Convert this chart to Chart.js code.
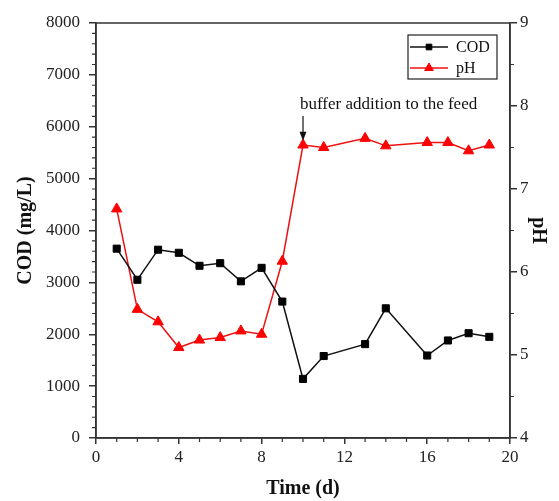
<!DOCTYPE html>
<html>
<head>
<meta charset="utf-8">
<script src="https://cdn.jsdelivr.net/npm/chart.js@4.4.0/dist/chart.umd.min.js"></script>
<style>body{margin:0;background:#fff}</style>
</head>
<body>
<canvas id="graficoCod" width="559" height="501"></canvas>
<script>
// dados
const dias = [1, 2, 3, 4, 5, 6, 7, 8, 9, 10, 11, 13, 14, 16, 17, 18, 19];
const cod = [3650, 3050, 3630, 3570, 3320, 3370, 3020, 3280, 2630, 1140, 1580, 1810, 2500, 1590, 1880, 2020, 1950];
const ph = [6.76, 5.55, 5.40, 5.09, 5.18, 5.21, 5.29, 5.25, 6.13, 7.53, 7.50, 7.61, 7.52, 7.56, 7.56, 7.46, 7.53];
const nomes = ['COD', 'pH'];
const nota = 'buffer addition to the feed';
const diaNota = 10;

const fonte = 'Liberation Serif, Times New Roman, serif';
const corEixo = '#333';

function pontos(valores) {
    return dias.map((d, i) => ({x: d, y: valores[i]}));
}

// ticks menores, moldura, legenda e nota
const extras = {
    id: 'extras',
    afterDraw(chart) {
        const ctx = chart.ctx;
        const area = chart.chartArea;
        const sx = chart.scales.x, sy = chart.scales.y, sp = chart.scales.y1;
        ctx.save();
        ctx.strokeStyle = corEixo;
        ctx.lineWidth = 1.5;
        ctx.strokeRect(area.left, area.top, area.right - area.left, area.bottom - area.top);

        ctx.lineWidth = 1.2;
        ctx.beginPath();
        for (let v = 0; v <= 20; v += 1) {
            if (v % 4 === 0) continue;
            const px = sx.getPixelForValue(v);
            ctx.moveTo(px, area.bottom);
            ctx.lineTo(px, area.bottom + 4);
        }
        for (let v = 0; v <= 8000; v += 200) {
            if (v % 1000 === 0) continue;
            const py = sy.getPixelForValue(v);
            ctx.moveTo(area.left, py);
            ctx.lineTo(area.left - 4, py);
        }
        for (let v = 4.5; v < 9; v += 1) {
            const py = sp.getPixelForValue(v);
            ctx.moveTo(area.right, py);
            ctx.lineTo(area.right + 4, py);
        }
        ctx.stroke();

        // legenda
        const lx = 408, ly = 35, lw = 89, lh = 44;
        ctx.lineWidth = 1.2;
        ctx.strokeStyle = '#222';
        ctx.strokeRect(lx, ly, lw, lh);
        ctx.font = '16px ' + fonte;
        ctx.textBaseline = 'middle';
        chart.data.datasets.forEach((ds, i) => {
            const yy = ly + 12 + i * 21;
            ctx.strokeStyle = ds.borderColor;
            ctx.lineWidth = ds.borderWidth;
            ctx.beginPath();
            ctx.moveTo(lx + 2, yy);
            ctx.lineTo(lx + 40, yy);
            ctx.stroke();
            ctx.fillStyle = ds.backgroundColor;
            ctx.strokeStyle = ds.pointBorderColor;
            ctx.lineWidth = 1;
            Chart.helpers.drawPoint(ctx, {
                pointStyle: ds.pointStyle, radius: ds.pointRadius - 1, borderWidth: 1
            }, lx + 21, yy);
            ctx.fillStyle = '#111';
            ctx.fillText(ds.label, lx + 48, yy + 1);
        });

        // nota e seta
        const ax = sx.getPixelForValue(diaNota);
        ctx.fillStyle = '#111';
        ctx.font = '17px ' + fonte;
        ctx.textAlign = 'left';
        ctx.fillText(nota, ax - 3, sp.getPixelForValue(8.02));
        const y0 = sp.getPixelForValue(7.88), y1 = sp.getPixelForValue(7.58);
        ctx.strokeStyle = '#111';
        ctx.lineWidth = 1.2;
        ctx.beginPath();
        ctx.moveTo(ax, y0);
        ctx.lineTo(ax, y1 - 6);
        ctx.stroke();
        ctx.beginPath();
        ctx.moveTo(ax - 3.5, y1 - 9);
        ctx.lineTo(ax + 3.5, y1 - 9);
        ctx.lineTo(ax, y1);
        ctx.closePath();
        ctx.fill();
        ctx.restore();
    }
};

const ctx = document.getElementById('graficoCod');

const tickFonte = {family: fonte, size: 17};
const tituloFonte = {family: fonte, size: 20, weight: 'bold'};

const myChart = new Chart(ctx, {
    type: 'line',
    data: {
        datasets: [{
            label: nomes[0],
            data: pontos(cod),
            yAxisID: 'y',
            borderColor: '#111',
            backgroundColor: '#000',
            borderWidth: 1.5,
            pointStyle: 'rect',
            pointRadius: 5,
            pointBorderWidth: 1,
            pointBorderColor: '#000'
        }, {
            label: nomes[1],
            data: pontos(ph),
            yAxisID: 'y1',
            borderColor: '#ee1111',
            backgroundColor: '#ff0000',
            borderWidth: 1.5,
            pointStyle: 'triangle',
            pointRadius: 6,
            pointBorderWidth: 1,
            pointBorderColor: '#ff0000'
        }]
    },
    options: {
        responsive: false,
        animation: false,
        layout: {padding: {top: 23, left: 0, right: 0, bottom: 0}},
        plugins: {
            legend: {display: false},
            tooltip: {enabled: false}
        },
        scales: {
            x: {
                type: 'linear',
                min: 0,
                max: 20,
                afterFit: s => { s.height = 63; },
                ticks: {stepSize: 4, padding: 3, color: '#222', font: tickFonte, callback: v => String(v)},
                grid: {drawOnChartArea: false, tickLength: 6, color: corEixo, lineWidth: 1.5},
                border: {color: corEixo, width: 1.5},
                title: {display: true, text: 'Time (d)', color: '#111',
                    font: tituloFonte, padding: {top: 0, bottom: 0}}
            },
            y: {
                position: 'left',
                min: 0,
                max: 8000,
                afterFit: s => { s.width = 96; },
                ticks: {stepSize: 1000, padding: 9, color: '#222', font: tickFonte, callback: v => String(v)},
                grid: {drawOnChartArea: false, tickLength: 7, color: corEixo, lineWidth: 1.5},
                border: {color: corEixo, width: 1.5},
                title: {display: true, text: 'COD (mg/L)', color: '#111',
                    font: tituloFonte, padding: {top: 14, bottom: 0}}
            },
            y1: {
                position: 'right',
                min: 4,
                max: 9,
                afterFit: s => { s.width = 49; },
                ticks: {stepSize: 1, padding: 3, color: '#222', font: tickFonte, callback: v => String(v)},
                grid: {drawOnChartArea: false, tickLength: 7, color: corEixo, lineWidth: 1.5},
                border: {color: corEixo, width: 1.5},
                title: {display: true, text: 'pH', color: '#111',
                    font: tituloFonte, padding: {top: 9, bottom: 0}}
            }
        }
    },
    plugins: [extras]
});
</script>
</body>
</html>
